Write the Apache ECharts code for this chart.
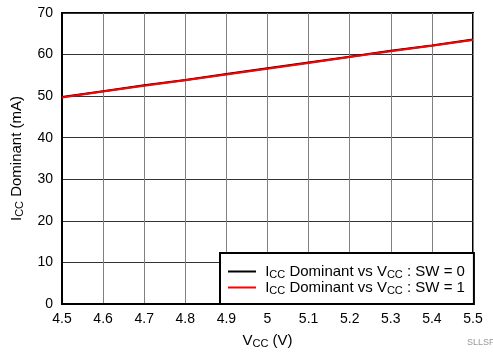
<!DOCTYPE html>
<html lang="en">
<head>
    <meta charset="UTF-8">
    <title>ICC Dominant vs VCC</title>
    <script src="https://cdn.jsdelivr.net/npm/echarts@6/dist/echarts.min.js"></script>
    <style>
        html, body { margin: 0; padding: 0; background: #fff; }
        #charts { width: 493px; height: 354px; }
    </style>
</head>
<body>
<div id="charts"></div>
<script>
    var vcc = ['4.5','4.6','4.7','4.8','4.9','5','5.1','5.2','5.3','5.4','5.5'];
    var iccSw0 = [49.8, 51.2, 52.6, 53.9, 55.3, 56.7, 58.1, 59.5, 60.9, 62.2, 63.6];
    var iccSw1 = [49.7, 51.1, 52.5, 53.8, 55.2, 56.6, 58.0, 59.4, 60.8, 62.1, 63.5];
    var yTicks = [0, 10, 20, 30, 40, 50, 60, 70];

    var myChart = echarts.init(document.getElementById('charts'));

    var font = 'Liberation Sans, Arial, sans-serif';
    var rich = {
        n: { fontSize: 15, fontFamily: font, color: '#000' },
        s: { fontSize: 11, fontFamily: font, color: '#000', padding: [6, 0, 0, 0] }
    };
    // legend text with subscripts
    var legendNames = {
        sw0: '{n| I}{s|CC}{n| Dominant vs V}{s|CC}{n| : SW = 0}',
        sw1: '{n| I}{s|CC}{n| Dominant vs V}{s|CC}{n| : SW = 1}'
    };

    var option = {
        animation: false,
        grid: {
            left: 62, right: 20, top: 13, bottom: 49,
            show: true, borderColor: '#000', borderWidth: 2
        },
        xAxis: {
            type: 'category',
            data: vcc,
            boundaryGap: false,
            name: '{n|V}{s|CC}{n| (V)}',
            nameLocation: 'middle',
            nameGap: 28,
            nameTextStyle: { rich: rich },
            axisLine: { lineStyle: { color: '#000', width: 2 } },
            axisTick: { show: false },
            axisLabel: { color: '#000', fontSize: 14, fontFamily: font, margin: 8 },
            splitLine: { show: true, lineStyle: { color: '#808080', width: 1 } }
        },
        yAxis: {
            type: 'value',
            min: yTicks[0],
            max: yTicks[yTicks.length - 1],
            interval: 10,
            name: '{n|I}{s|CC}{n| Dominant (mA)}',
            nameLocation: 'middle',
            nameGap: 37,
            nameRotate: 90,
            nameTextStyle: { rich: rich },
            axisLine: { show: true, lineStyle: { color: '#000', width: 2 } },
            axisTick: { show: false },
            axisLabel: { color: '#000', fontSize: 14, fontFamily: font, margin: 9 },
            splitLine: { show: true, lineStyle: { color: '#333', width: 1 } }
        },
        legend: {
            left: 220, top: 253,
            orient: 'vertical',
            backgroundColor: '#fff',
            borderColor: '#000',
            borderWidth: 2,
            borderRadius: 0,
            padding: [11, 9, 8, 8],
            itemGap: 0,
            itemWidth: 28,
            itemHeight: 2,
            icon: 'rect',
            data: ['sw0', 'sw1'],
            formatter: function (name) { return legendNames[name]; },
            textStyle: { rich: rich }
        },
        graphic: [{
            type: 'text',
            left: 467, top: 338,
            style: { text: 'SLLSF31', fill: '#999', fontSize: 9, fontFamily: font }
        }],
        series: [
            {
                name: 'sw0',
                type: 'line',
                data: iccSw0,
                symbol: 'none',
                lineStyle: { color: '#000', width: 2 },
                itemStyle: { color: '#000' }
            },
            {
                name: 'sw1',
                type: 'line',
                data: iccSw1,
                symbol: 'none',
                lineStyle: { color: '#ff0000', width: 2 },
                itemStyle: { color: '#ff0000' }
            }
        ]
    };

    myChart.setOption(option);
</script>
</body>
</html>
